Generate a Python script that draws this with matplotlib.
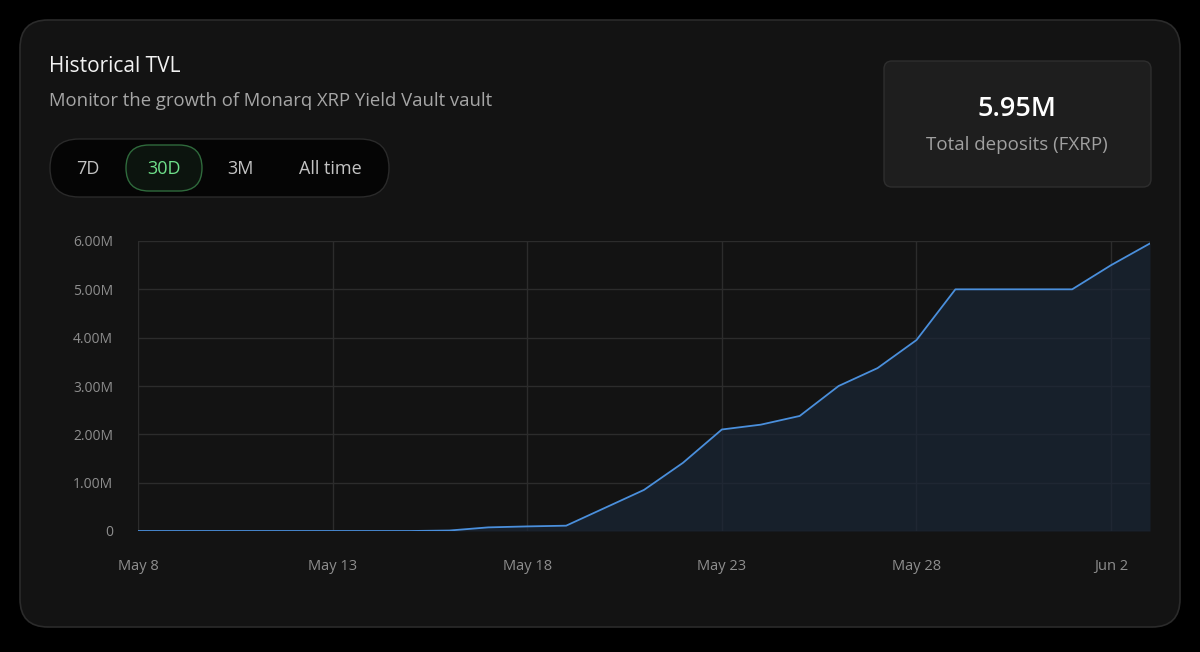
import matplotlib
matplotlib.use("Agg")
import matplotlib.pyplot as plt
import matplotlib.dates as mdates
from matplotlib.patches import FancyBboxPatch
import datetime as dt

# data
dates = ["2025-05-08", "2025-05-09", "2025-05-10", "2025-05-11", "2025-05-12",
         "2025-05-13", "2025-05-14", "2025-05-15", "2025-05-16", "2025-05-17",
         "2025-05-18", "2025-05-19", "2025-05-20", "2025-05-21", "2025-05-22",
         "2025-05-23", "2025-05-24", "2025-05-25", "2025-05-26", "2025-05-27",
         "2025-05-28", "2025-05-29", "2025-05-30", "2025-05-31", "2025-06-01",
         "2025-06-02", "2025-06-03"]
tvl = [0.0, 0.0, 0.0, 0.0, 0.0,
       0.0, 0.0, 0.0, 0.01, 0.075,
       0.095, 0.11, 0.48, 0.85, 1.41,
       2.10, 2.20, 2.38, 3.00, 3.37,
       3.95, 5.00, 5.00, 5.00, 5.00,
       5.50, 5.95]
y_ticks = [0, 1, 2, 3, 4, 5, 6]
y_labels = ["0", "1.00M", "2.00M", "3.00M", "4.00M", "5.00M", "6.00M"]
x_tick_dates = ["2025-05-08", "2025-05-13", "2025-05-18", "2025-05-23", "2025-05-28", "2025-06-02"]
x_labels = ["May 8", "May 13", "May 18", "May 23", "May 28", "Jun 2"]
periods = ["7D", "30D", "3M", "All time"]
total = "5.95M"

FONT = "Open Sans"
W, H = 1200, 652
fig = plt.figure(figsize=(12, 6.52), dpi=100)
fig.patch.set_facecolor("#000000")

# background layer in pixel coords
bg = fig.add_axes([0, 0, 1, 1])
bg.set_xlim(0, W)
bg.set_ylim(H, 0)
bg.axis("off")
bg.set_zorder(0)

bg.add_patch(FancyBboxPatch((20, 20), 1160, 607, boxstyle="round,pad=0,rounding_size=28",
                            fc="#131313", ec="#2b2b2b", lw=1.2))
bg.text(49, 66, "Historical TVL", color="#f2f2f2", fontsize=15, family=FONT, va="center")
bg.text(49, 101, "Monitor the growth of Monarq XRP Yield Vault vault", color="#a6a6a6",
        fontsize=13.3, family=FONT, va="center")

# period selector
bg.add_patch(FancyBboxPatch((50, 139), 339, 58, boxstyle="round,pad=0,rounding_size=29",
                            fc="#050505", ec="#2a2a2a", lw=1))
bg.add_patch(FancyBboxPatch((126, 145), 76, 46, boxstyle="round,pad=0,rounding_size=23",
                            fc="#0c140e", ec="#2f6a3c", lw=1))
for lab, cx in zip(periods, [88, 164, 240, 330]):
    col = "#6fe08a" if lab == "30D" else "#c4c4c4"
    bg.text(cx, 169, lab, color=col, fontsize=13, family=FONT, ha="center", va="center")

# stat box
bg.add_patch(FancyBboxPatch((884, 61), 267, 126, boxstyle="round,pad=0,rounding_size=8",
                            fc="#1e1e1e", ec="#2e2e2e", lw=1))
bg.text(1017, 109, total, color="#ffffff", fontsize=19.5, family=FONT, fontweight="semibold",
        ha="center", va="center")
bg.text(1017, 145, "Total deposits (FXRP)", color="#a0a0a0", fontsize=13.5, family=FONT,
        ha="center", va="center")

# chart
left, right, top, bottom = 138, 1150, 241, 531
ax = fig.add_axes([left / W, (H - bottom) / H, (right - left) / W, (bottom - top) / H])
ax.set_zorder(1)
ax.patch.set_alpha(0)

x = [dt.datetime.strptime(d, "%Y-%m-%d") for d in dates]
xn = mdates.date2num(x)
ax.fill_between(xn, tvl, 0, color="#1a2636", alpha=0.7, lw=0, zorder=2)
ax.plot(xn, tvl, color="#4a8fdc", lw=1.3, zorder=3)

ax.set_xlim(xn[0], xn[-1])
ax.set_ylim(0, 6)
xt = mdates.date2num([dt.datetime.strptime(d, "%Y-%m-%d") for d in x_tick_dates])
ax.set_xticks(xt)
ax.set_xticklabels(x_labels)
ax.set_yticks(y_ticks)
ax.set_yticklabels(y_labels)
ax.grid(True, color="#2c2c2c", lw=1, zorder=1)
ax.set_axisbelow(True)
for s in ax.spines.values():
    s.set_visible(False)
ax.tick_params(length=0, colors="#8e8e8e")
ax.tick_params(axis="x", pad=20, labelsize=10.5)
ax.tick_params(axis="y", pad=18, labelsize=10)
for t in ax.get_xticklabels() + ax.get_yticklabels():
    t.set_family(FONT)

fig.savefig("out.png", dpi=100, facecolor=fig.get_facecolor())
